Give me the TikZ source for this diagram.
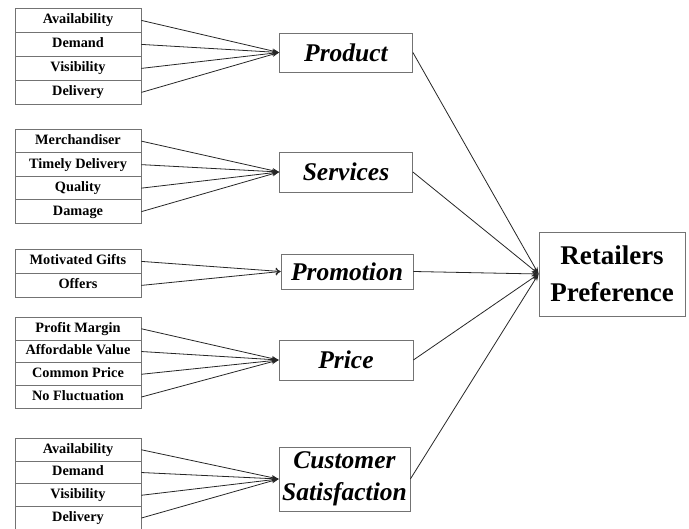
\documentclass[tikz,border=0pt]{standalone}
\usepackage{fontspec}
\setmainfont{Liberation Serif}
\usetikzlibrary{arrows.meta}
\begin{document}
\begin{tikzpicture}[x=1pt,y=-1pt,
  rowbox/.style={draw=black!55, line width=0.8pt, minimum width=126pt, inner sep=0pt,
    text height=9.8pt, text depth=3pt,
    font=\fontsize{14.3}{15}\selectfont\bfseries, anchor=north},
  catbox/.style={draw=black!55, line width=0.8pt, minimum width=133pt, inner sep=0pt,
    align=center, font=\fontsize{25.5}{32}\selectfont\bfseries\itshape},
  conn/.style={draw=black!85, line width=0.8pt, -{Stealth[length=7pt,width=5pt]}},
  oconn/.style={draw=black!85, line width=0.8pt, -{To[length=5pt,width=7pt]}}
]
\useasboundingbox (0,0) rectangle (689,529);
% Retailers
\node[draw=black!55, line width=0.8pt, minimum width=146pt, minimum height=84pt, inner sep=0pt,
  align=center, font=\fontsize{27}{37}\selectfont\bfseries] (ret) at (612,274) {Retailers\\Preference};
% categories
\node[catbox, minimum height=39pt] (prod) at (346,52.5) {Product};
\node[catbox, minimum height=40pt] (serv) at (346,172) {Services};
\node[catbox, minimum height=35pt, minimum width=132pt] (prom) at (347,271.5) {Promotion};
\node[catbox, minimum height=40pt, minimum width=134pt] (price) at (346,360) {Price};
\node[catbox, minimum height=64pt, minimum width=131pt] (cust) at (344.5,479) {Customer\\Satisfaction};
% product rows
\node[rowbox, minimum height=24pt] (p1) at (78,8) {Availability};
\node[rowbox, minimum height=24pt] (p2) at (78,32) {Demand};
\node[rowbox, minimum height=24pt] (p3) at (78,56) {Visibility};
\node[rowbox, minimum height=24pt] (p4) at (78,80) {Delivery};
% services rows
\node[rowbox, minimum height=23.5pt] (s1) at (78,129) {Merchandiser};
\node[rowbox, minimum height=23.5pt] (s2) at (78,152.5) {Timely Delivery};
\node[rowbox, minimum height=23.5pt] (s3) at (78,176) {Quality};
\node[rowbox, minimum height=23.5pt] (s4) at (78,199.5) {Damage};
% promotion rows
\node[rowbox, minimum height=24pt] (m1) at (78,249) {Motivated Gifts};
\node[rowbox, minimum height=24pt] (m2) at (78,273) {Offers};
% price rows
\node[rowbox, minimum height=22.75pt] (c1) at (78,317) {Profit Margin};
\node[rowbox, minimum height=22.75pt] (c2) at (78,339.75) {Affordable Value};
\node[rowbox, minimum height=22.75pt] (c3) at (78,362.5) {Common Price};
\node[rowbox, minimum height=22.75pt] (c4) at (78,385.25) {No Fluctuation};
% customer rows
\node[rowbox, minimum height=22.75pt] (u1) at (78,438) {Availability};
\node[rowbox, minimum height=22.75pt] (u2) at (78,460.75) {Demand};
\node[rowbox, minimum height=22.75pt] (u3) at (78,483.5) {Visibility};
\node[rowbox, minimum height=22.75pt] (u4) at (78,506.25) {Delivery};
% connectors
\foreach \r in {p1,p2,p3,p4} \draw[conn] (\r.east) -- (prod.west);
\foreach \r in {s1,s2,s3,s4} \draw[conn] (\r.east) -- (serv.west);
\foreach \r in {m1,m2} \draw[oconn] (\r.east) -- (prom.west);
\foreach \r in {c1,c2,c3,c4} \draw[conn] (\r.east) -- (price.west);
\foreach \r in {u1,u2,u3,u4} \draw[conn] (\r.east) -- (cust.west);
\foreach \c in {prod,serv,prom,price,cust} \draw[conn] (\c.east) -- (ret.west);
\end{tikzpicture}
\end{document}
